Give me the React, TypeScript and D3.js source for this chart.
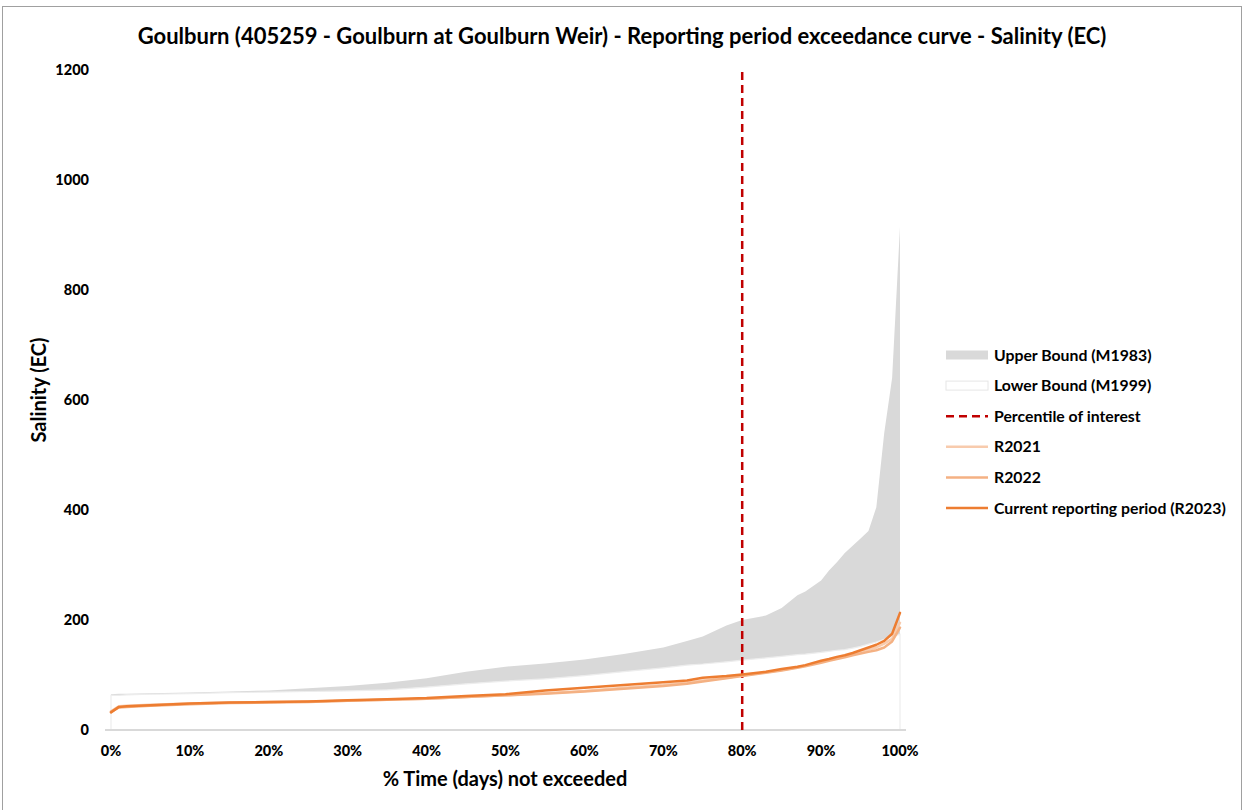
import * as d3 from 'd3'

// % time not exceeded (x positions of the sampled points)
const pct = [0, 1, 2, 5, 10, 15, 20, 25, 30, 35, 40, 45, 50, 55, 60, 65, 70, 73, 75, 78, 80, 83, 85, 87, 88, 90, 91, 92, 93, 94, 95, 96, 97, 98, 99, 100]

const upperM1983 = [65, 66, 66, 67, 68, 70, 72, 76, 80, 86, 94, 106, 115, 121, 128, 138, 150, 162, 170, 190, 200, 208, 222, 245, 252, 272, 290, 305, 322, 335, 348, 362, 405, 540, 640, 915]
const lowerM1999 = [63, 63, 64, 65, 66, 68, 69, 70, 71, 73, 78, 84, 89, 93, 99, 106, 113, 118, 120, 124, 127, 131, 134, 137, 138, 141, 143, 145, 146, 149, 152, 156, 160, 165, 170, 174]
const r2021 = [34, 43, 44, 46, 48, 50, 51, 52, 53, 55, 57, 60, 63, 67, 71, 77, 82, 86, 90, 95, 99, 105, 109, 114, 117, 124, 127, 130, 134, 138, 142, 146, 150, 157, 166, 195]
const r2022 = [33, 41, 42, 44, 47, 49, 50, 51, 53, 55, 57, 60, 63, 66, 70, 75, 80, 84, 88, 94, 98, 104, 108, 113, 116, 122, 126, 129, 132, 136, 139, 142, 145, 150, 161, 186]
const r2023 = [32, 42, 43, 45, 48, 50, 51, 52, 54, 56, 58, 62, 65, 72, 77, 82, 87, 90, 95, 98, 101, 106, 111, 115, 118, 126, 129, 133, 136, 140, 145, 150, 155, 162, 175, 213]

const percentileOfInterest = 80
const xTicks = [0, 10, 20, 30, 40, 50, 60, 70, 80, 90, 100]
const yTicks = [0, 200, 400, 600, 800, 1000, 1200]

const legendItems = [
  { label: 'Upper Bound (M1983)', kind: 'area', fill: '#d9d9d9', stroke: 'none' },
  { label: 'Lower Bound (M1999)', kind: 'area', fill: '#ffffff', stroke: '#e6e6e6' },
  { label: 'Percentile of interest', kind: 'dash', stroke: '#c00000' },
  { label: 'R2021', kind: 'line', stroke: '#f8cbad' },
  { label: 'R2022', kind: 'line', stroke: '#f4b183' },
  { label: 'Current reporting period (R2023)', kind: 'line', stroke: '#ed7d31' },
]

const W = 1243
const H = 810
const margin = { left: 111, right: 343, top: 70, bottom: 80 }
const font = 'Lato, Calibri, "Noto Sans", sans-serif'

export default function App() {
  const x = d3.scaleLinear().domain([0, 100]).range([margin.left, W - margin.right])
  const y = d3.scaleLinear().domain([0, 1200]).range([H - margin.bottom, margin.top])

  const area = (vals: number[]) =>
    d3.area<number>().x((_, i) => x(pct[i])).y0(y(0)).y1(d => y(d))(vals) ?? ''
  const line = (vals: number[]) =>
    d3.line<number>().x((_, i) => x(pct[i])).y(d => y(d))(vals) ?? ''

  const series = [
    { vals: r2021, color: '#f8cbad', w: 2.5 },
    { vals: r2022, color: '#f4b183', w: 2.5 },
    { vals: r2023, color: '#ed7d31', w: 2.5 },
  ]

  const legX = 946
  const legY0 = 355
  const legStep = 30.6

  return (
    <svg width={W} height={H} style={{ position: 'absolute', left: 0, top: 0, background: '#fff' }} fontFamily={font}>
      <rect x={2.5} y={6.5} width={1239} height={810} fill="#fff" stroke="#a0a0a0" strokeWidth={1} />

      <text x={622} y={44} textAnchor="middle" fontSize={22} fontWeight={700} fill="#000">
        Goulburn (405259 - Goulburn at Goulburn Weir) - Reporting period exceedance curve - Salinity (EC)
      </text>

      {/* areas: upper bound drawn first, lower bound white on top */}
      <path d={area(upperM1983)} fill="#d9d9d9" />
      <path d={area(lowerM1999)} fill="#ffffff" stroke="#ededed" strokeWidth={1.2} />

      {/* x axis line */}
      <line x1={105} x2={906} y1={y(0)} y2={y(0)} stroke="#d9d9d9" strokeWidth={2} />

      <line
        x1={x(percentileOfInterest)} x2={x(percentileOfInterest)}
        y1={y(0)} y2={y(1200)}
        stroke="#c00000" strokeWidth={2.5} strokeDasharray="8,5"
      />

      {series.map((s, i) => (
        <path key={i} d={line(s.vals)} fill="none" stroke={s.color} strokeWidth={s.w} strokeLinejoin="round" strokeLinecap="round" />
      ))}

      {yTicks.map(t => (
        <text key={t} x={89} y={y(t)} dy="0.35em" textAnchor="end" fontSize={14.5} fontWeight={900} fill="#000">{t}</text>
      ))}
      {xTicks.map(t => (
        <text key={t} x={x(t)} y={756} textAnchor="middle" fontSize={14.5} fontWeight={900} fill="#000">{t}%</text>
      ))}

      <text x={505} y={786} textAnchor="middle" fontSize={20} fontWeight={700} fill="#000">% Time (days) not exceeded</text>
      <text transform={`translate(46,390) rotate(-90)`} textAnchor="middle" fontSize={20} fontWeight={700} fill="#000">Salinity (EC)</text>

      {legendItems.map((it, i) => {
        const cy = legY0 + i * legStep
        return (
          <g key={it.label}>
            {it.kind === 'area' && (
              <rect x={legX} y={cy - 4.5} width={42} height={9} fill={it.fill} stroke={it.stroke} strokeWidth={1} />
            )}
            {it.kind === 'dash' && (
              <line x1={legX} x2={legX + 42} y1={cy} y2={cy} stroke={it.stroke} strokeWidth={2.5} strokeDasharray="8,5" />
            )}
            {it.kind === 'line' && (
              <line x1={legX} x2={legX + 42} y1={cy} y2={cy} stroke={it.stroke} strokeWidth={2.5} />
            )}
            <text x={994} y={cy} dy="0.35em" fontSize={15.8} fontWeight={700} fill="#000">{it.label}</text>
          </g>
        )
      })}
    </svg>
  )
}
